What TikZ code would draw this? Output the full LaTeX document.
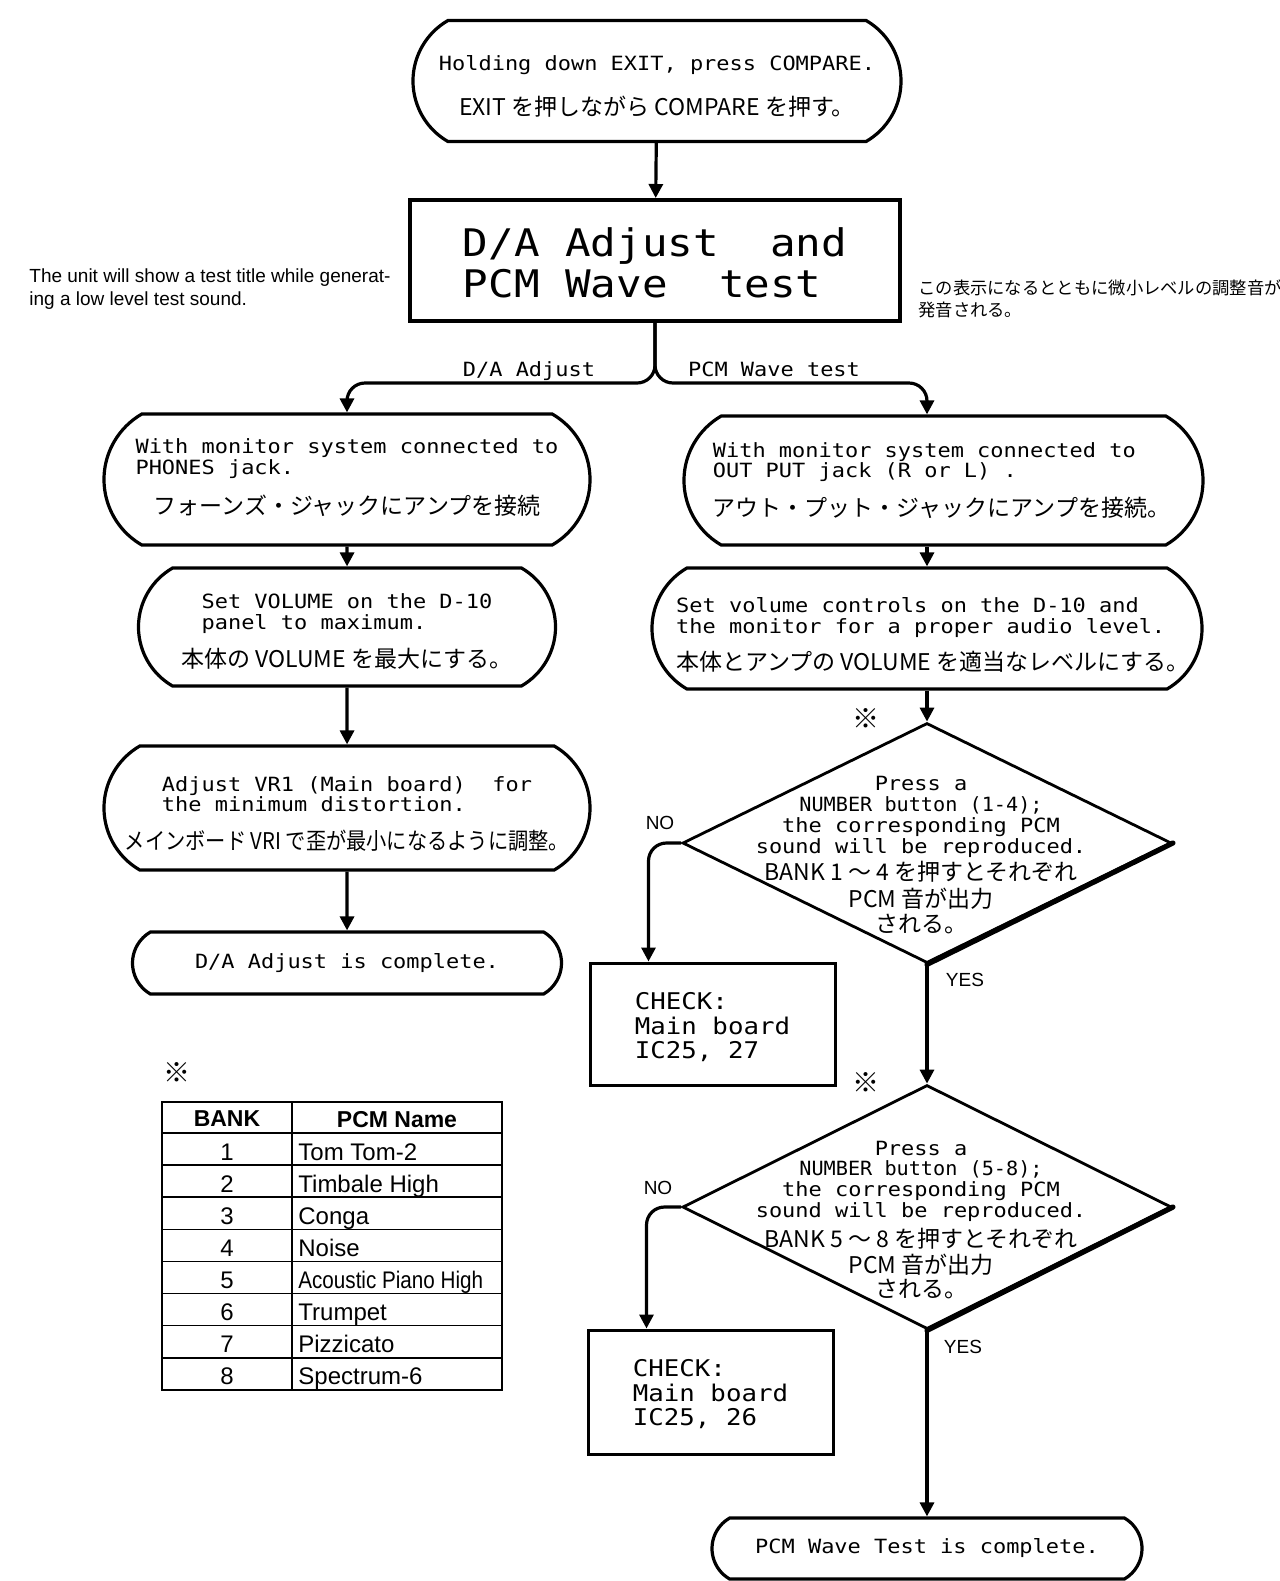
\documentclass[tikz,border=0pt]{standalone}
\usepackage{fontspec}
\usepackage{graphicx}
\usepackage{tikz}
\usetikzlibrary{arrows.meta,shapes.geometric,shapes.misc}
\newfontfamily\dmono[FakeStretch=1.12]{DejaVu Sans Mono}
\newfontfamily\jpfont{Noto Sans CJK JP}
\newfontfamily\helvfont{Liberation Sans}
\newcommand{\enf}{\dmono\fontsize{9.8}{10}\selectfont}
\newcommand{\jaf}{\jpfont\fontsize{11.5}{10}\selectfont}
\newcommand{\jl}[1]{\raisebox{0pt}[7pt][3pt]{\jaf #1}}
\newcommand{\shiftv}[2]{\raisebox{#1}[\height][\depth]{#2}}

\begin{document}
\begin{tikzpicture}[x=0.5pt, y=-0.5pt,
    term/.style={draw, line width=1.6pt, shape=rounded rectangle, rounded rectangle arc length=120, inner sep=0pt, font=\enf},
    dec/.style={draw, diamond, line width=1.4pt, inner sep=0pt, minimum width=244.5pt},
    chkbox/.style={draw, line width=1.5pt, inner sep=0pt, minimum width=122.5pt, font=\dmono\fontsize{11.5}{12}\selectfont},
    arr/.style={line width=1.6pt, -{Triangle[length=7pt,width=7pt]}},
    yn/.style={font=\helvfont\fontsize{9.5}{10}\selectfont, inner sep=0pt},
    refmark/.style={font=\jpfont\fontsize{13.5}{12}\selectfont, inner sep=0pt},
    tabh/.style={font=\helvfont\bfseries\fontsize{11.5}{12}\selectfont, inner sep=0pt, anchor=base},
    tabc/.style={font=\helvfont\fontsize{12}{12}\selectfont, inner sep=0pt}]
    \useasboundingbox (0,0) rectangle (1280,1581);

    \node[term, minimum width=244pt, minimum height=60.5pt] (top) at (657,81) {\shiftv{-3.75pt}{\begin{tabular}{@{}c@{}}Holding down EXIT, press COMPARE.\\[12.5pt]\jl{EXIT を押しながら COMPARE を押す。}\end{tabular}}};
    \node[draw, line width=2pt, minimum width=245pt, minimum height=60.5pt, inner sep=0pt, font=\dmono\fontsize{19}{20}\selectfont] (disp) at (655,260.5) {\shiftv{-4pt}{\begin{tabular}{@{}l@{}}D/A Adjust~~and\\PCM Wave~~test\end{tabular}}};
    \node[anchor=west, align=left, inner sep=0pt, font=\helvfont\fontsize{9.5}{11.5}\selectfont] (notel) at (29,289) {The unit will show a test title while generat-\\ing a low level test sound.};
    \node[anchor=west, align=left, inner sep=0pt, font=\jpfont\fontsize{8.65}{11}\selectfont] (noter) at (918,299) {この表示になるとともに微小レベルの調整音が\\発音される。};

    \coordinate (fork) at (655,383);
    \node[font=\enf, anchor=base, inner sep=0pt] (lda) at (529,376) {D/A Adjust};
    \node[font=\enf, anchor=base, inner sep=0pt] (lpcm) at (774,376) {PCM Wave test};

    \node[term, minimum width=243pt, minimum height=65.5pt] (lb1) at (347,479.5) {\begin{tabular}{@{}c@{}}With monitor system connected to\\PHONES jack.\phantom{xxxxxxxxxxxxxxxxxxxx}\\[10pt]\jl{フォーンズ・ジャックにアンプを接続}\end{tabular}};
    \node[term, minimum width=259.5pt, minimum height=64.5pt] (rb1) at (943.5,480.5) {\kern-2pt\shiftv{-1pt}{\begin{tabular}{@{}l@{}}With monitor system connected to\\OUT PUT jack (R or L) .\\[9.5pt]\jl{アウト・プット・ジャックにアンプを接続。}\end{tabular}}};
    \node[term, minimum width=208.5pt, minimum height=59pt] (lb2) at (347,627) {\shiftv{-3.5pt}{\begin{tabular}{@{}c@{}}Set VOLUME on the D-10\\panel to maximum.\phantom{xxxxx}\\[9pt]\jl{本体の VOLUME を最大にする。}\end{tabular}}};
    \node[term, minimum width=275pt, minimum height=60.5pt] (rb2) at (927,628.5) {\kern6pt\shiftv{-4pt}{\begin{tabular}{@{}l@{}}Set volume controls on the D-10 and\\the monitor for a proper audio level.\\[8.5pt]\jl{本体とアンプの VOLUME を適当なレベルにする。}\end{tabular}}};
    \node[term, minimum width=243pt, minimum height=62pt] (lb3) at (347,808) {\shiftv{-4pt}{\begin{tabular}{@{}c@{}}Adjust VR1 (Main board)~~for\\the minimum distortion.\phantom{xxxxx}\\[9pt]\jl{\scalebox{0.88}[1]{メインボード VRI で歪が最小になるように調整。}}\end{tabular}}};
    \node[term, minimum width=214.5pt, minimum height=31pt] (lb4) at (347,963) {D/A Adjust is complete.};

    \node[dec, minimum height=120pt] (q1) at (927,843) {};
    \node[inner sep=0pt, font=\enf] (q1t) at (921,857) {\begin{tabular}{@{}c@{}}Press a\\\scalebox{0.92}[1]{NUMBER button (1-4);}\\the corresponding PCM\\sound will be reproduced.\\[3.5pt]\jl{BANK 1 ～ 4 を押すとそれぞれ}\\[3.5pt]\jl{PCM 音が出力}\\[2.5pt]\jl{される。}\end{tabular}};
    \node[chkbox, minimum height=61pt] (c1) at (712.5,1024) {\shiftv{-2.5pt}{\begin{tabular}{@{}l@{}}CHECK:\\Main board\\IC25, 27\end{tabular}}};
    \node[dec, minimum height=122pt] (q2) at (927,1207) {};
    \node[inner sep=0pt, font=\enf] (q2t) at (921,1222) {\begin{tabular}{@{}c@{}}Press a\\\scalebox{0.92}[1]{NUMBER button (5-8);}\\the corresponding PCM\\sound will be reproduced.\\[4.6pt]\jl{BANK 5 ～ 8 を押すとそれぞれ}\\[3.15pt]\jl{PCM 音が出力}\\[2pt]\jl{される。}\end{tabular}};
    \node[chkbox, minimum height=62pt] (c2) at (710.5,1392) {\shiftv{-2pt}{\begin{tabular}{@{}l@{}}CHECK:\\Main board\\IC25, 26\end{tabular}}};
    \node[term, minimum width=215pt, minimum height=30.5pt] (fin) at (927,1548.5) {PCM Wave Test is complete.};

    \draw[line width=2.6pt, line cap=round] (q1.east) -- (q1.south); \draw[line width=2.6pt, line cap=round] (q2.east) -- (q2.south);
    \node[refmark] (mk1) at (866,718) {※}; \node[refmark] (mk2) at (866,1082) {※};
    \node[yn] (no1) at (660,823) {NO}; \node[yn] (yes1) at (965,980) {YES};
    \node[yn] (no2) at (658,1188) {NO}; \node[yn] (yes2) at (963,1347) {YES};

    \draw[arr] (top) -- (disp);
    \draw[arr, rounded corners=9pt] (disp.south) -- (fork) -| (lb1.north);
    \draw[arr, rounded corners=9pt] (disp.south) -- (fork) -| (rb1.north -| q1.north);
    \draw[arr] (lb1) -- (lb2); \draw[arr] (lb2) -- (lb3); \draw[arr] (lb3) -- (lb4);
    \draw[arr] (rb1.south -| rb2.north) -- (rb2.north); \draw[arr] (rb2.south) -- (q1.north);
    \draw[arr] (q1.south) -- (q2.north); \draw[arr] (q2.south) -- (fin.north);
    \draw[arr, rounded corners=9pt] (q1.west) -| ([xshift=30pt]c1.north west);
    \draw[arr, rounded corners=9pt] (q2.west) -| ([xshift=30pt]c2.north west);

    \node[refmark] (mk3) at (177,1072) {※};
    \draw[line width=1pt] (162,1102) rectangle (502,1390);
    \draw[line width=0.8pt] (292,1102) -- (292,1390);
    \foreach \i in {0,...,7} {\draw[line width=0.8pt] (162,{1133+32.1*\i}) -- (502,{1133+32.1*\i});}
    \node[tabh] (hbank) at (227,1126) {BANK}; \node[tabh] (hpcm) at (397,1127) {PCM Name};
    \foreach \bk/\nm [count=\i] in {1/Tom Tom-2, 2/Timbale High, 3/Conga, 4/Noise, 5/{\scalebox{0.86}[1]{Acoustic Piano High}}, 6/Trumpet, 7/Pizzicato, 8/Spectrum-6} {
        \node[tabc, anchor=base] (bank\i) at (227,{1133+32.1*(\i-0.5)+11}) {\bk};
        \node[tabc, anchor=base west] (pcm\i) at (298,{1133+32.1*(\i-0.5)+11}) {\nm};
    }
\end{tikzpicture}
\end{document}
